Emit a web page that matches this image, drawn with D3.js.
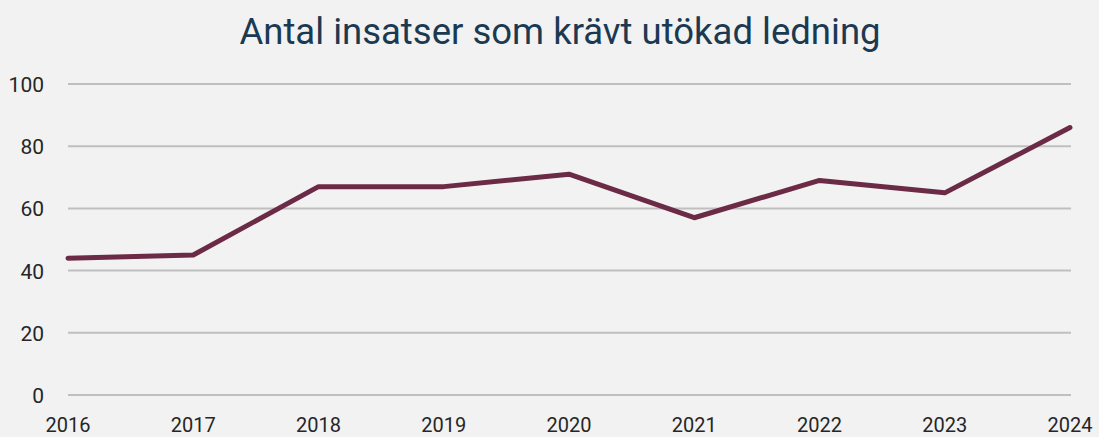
<!DOCTYPE html>
<html>
<head>
<meta charset="utf-8">
<script src="https://cdn.jsdelivr.net/npm/d3@7"></script>
<style>
  html, body { margin: 0; padding: 0; background: #f2f2f2; }
  svg { display: block; font-family: Roboto, sans-serif; }
</style>
</head>
<body>
<script>
const title = 'Antal insatser som krävt utökad ledning'
const years = ['2016', '2017', '2018', '2019', '2020', '2021', '2022', '2023', '2024']
const values = [44, 45, 67, 67, 71, 57, 69, 65, 86]
const yTicks = [0, 20, 40, 60, 80, 100]

const width = 1099
const height = 437
const lineColor = '#6b2b46'

const svg = d3.select('body').append('svg')
    .attr('width', width)
    .attr('height', height)

svg.append('rect').attr('width', width).attr('height', height).attr('fill', '#f2f2f2')

const x = d3.scalePoint().domain(years).range([68, 1070])
const y = d3.scaleLinear().domain([0, 100]).range([395, 84])

// gridlines
svg.append('g')
    .selectAll('line')
    .data(yTicks)
    .enter()
    .append('line')
    .attr('x1', 68)
    .attr('x2', 1071)
    .attr('y1', d => y(d))
    .attr('y2', d => y(d))
    .attr('stroke', '#bfbfbf')
    .attr('stroke-width', 2)

// y labels
svg.append('g')
    .selectAll('text')
    .data(yTicks)
    .enter()
    .append('text')
    .attr('x', 44)
    .attr('y', d => y(d) + 8)
    .attr('text-anchor', 'end')
    .attr('font-size', 21)
    .attr('fill', '#262626')
    .text(d => d)

// x labels
svg.append('g')
    .selectAll('text')
    .data(years)
    .enter()
    .append('text')
    .attr('x', d => x(d))
    .attr('y', 432)
    .attr('text-anchor', 'middle')
    .attr('font-size', 20)
    .attr('fill', '#262626')
    .text(d => d)

const line = d3.line()
    .x((d, i) => x(years[i]))
    .y(d => y(d))

svg.append('path')
    .datum(values)
    .attr('d', line)
    .attr('fill', 'none')
    .attr('stroke', lineColor)
    .attr('stroke-width', 5)
    .attr('stroke-linejoin', 'round')
    .attr('stroke-linecap', 'round')

svg.append('text')
    .attr('x', 560)
    .attr('y', 44)
    .attr('text-anchor', 'middle')
    .attr('font-size', 36.5)
    .attr('fill', '#1b3a52')
    .text(title)
</script>
</body>
</html>
